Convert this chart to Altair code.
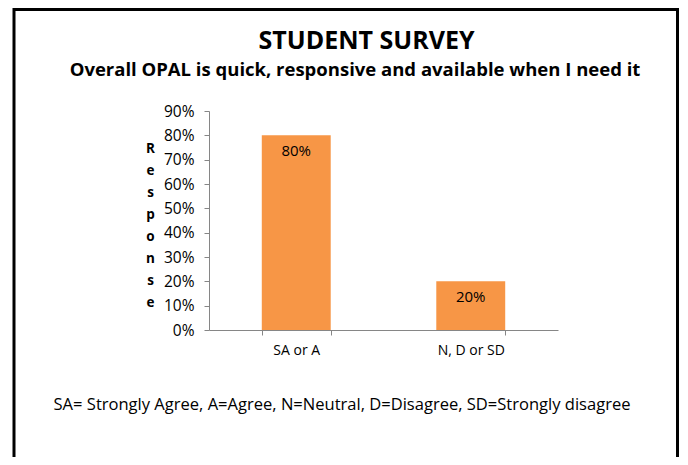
import altair as alt
import pandas as pd

categories = ["SA or A", "N, D or SD"]
values = [0.80, 0.20]
labels = ["80%", "20%"]

title_text = "STUDENT SURVEY"
subtitle_text = "Overall OPAL is quick, responsive and available when I need it"
footnote = "SA= Strongly Agree, A=Agree, N=Neutral, D=Disagree, SD=Strongly disagree"
y_title = list("Response")
y_ticks = [0.0, 0.1, 0.2, 0.3, 0.4, 0.5, 0.6, 0.7, 0.8, 0.9]

df = pd.DataFrame({"cat": categories, "val": values, "lab": labels})
tdf = pd.DataFrame({"t": [title_text], "s": [subtitle_text]})

FONT = "Open Sans"
W, H = 349, 219
PL, PT = 201, 103
TOTAL_W, TOTAL_H = 672, 449

x = alt.X("cat:N", sort=categories,
          scale=alt.Scale(paddingInner=0.605, paddingOuter=0.3025),
          axis=alt.Axis(title=footnote, labelAngle=0, labelFontSize=14, labelFont=FONT,
                        labelColor="#000000", labelPadding=8, tickBand="extent",
                        tickSize=5, tickColor="#868686", domainColor="#868686",
                        titleFont=FONT, titleFontSize=16.55, titleFontWeight="normal",
                        titleColor="#000000", titleX=132.5, titleY=74,
                        titleBaseline="middle", titleAlign="center"))
y = alt.Y("val:Q", scale=alt.Scale(domain=[0, 0.9], nice=False),
          axis=alt.Axis(format="%", values=y_ticks, grid=False,
                        labelOverlap=False, labelBound=False,
                        labelFontSize=15.5, labelFont=FONT, labelColor="#000000",
                        labelPadding=10, tickSize=5, tickColor="#868686",
                        domainColor="#868686", title=y_title, titleAngle=0,
                        titleFont=FONT, titleFontSize=13.5, titleFontWeight="bold",
                        titleColor="#000000", titleLineHeight=22, titleX=-59,
                        titleY=30, titleBaseline="top", titleAlign="center"))

base = alt.Chart(df).encode(x=x, y=y)
bars = base.mark_bar(color="#F79646")
text = base.mark_text(font=FONT, fontSize=15, dy=16, color="#000000",
                      baseline="middle").encode(text="lab:N")
border = alt.Chart(tdf).mark_rect(fillOpacity=0, stroke="#000000", strokeWidth=3).encode(
    x=alt.value(6 - PL), x2=alt.value(669.5 - PL),
    y=alt.value(-101.5), y2=alt.value(420))
title = alt.Chart(tdf).mark_text(font=FONT, fontSize=25, fontWeight="bold", color="#000000",
                                 baseline="middle", align="center").encode(
    x=alt.value(157.5), y=alt.value(-70), text="t:N")
subtitle = alt.Chart(tdf).mark_text(font=FONT, fontSize=18.5, fontWeight="bold", color="#000000",
                                    baseline="middle", align="center").encode(
    x=alt.value(146), y=alt.value(-41), text="s:N")

chart = alt.layer(border, bars, text, title, subtitle).properties(
    width=W, height=H,
    padding={"left": PL, "top": PT, "right": TOTAL_W - PL - W, "bottom": TOTAL_H - PT - H},
    autosize=alt.AutoSizeParams(type="none"),
).configure(background="white").configure_view(strokeWidth=0)

chart.save("out.html", embed_options={"renderer": "svg", "actions": False})
